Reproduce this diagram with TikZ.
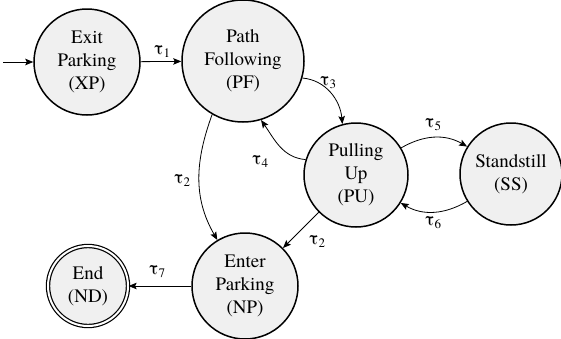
\documentclass[tikz,border=0pt]{standalone}
\usepackage{fontspec}
\setmainfont{texgyretermes-regular.otf}
\newfontfamily\tnr{texgyretermes-regular.otf}
\usetikzlibrary{arrows.meta}
\newcommand{\tsub}[1]{τ\raisebox{-0.35ex}{\fontsize{13}{13}\selectfont #1}}
\begin{document}
\begin{tikzpicture}[x=1pt,y=-1pt,
  state/.style={circle, draw=black, line width=1.5pt, fill=black!6, inner sep=0pt, align=center,
     font=\tnr\fontsize{19}{23}\selectfont},
  tr/.style={-{Stealth[length=8pt,width=6.5pt,inset=1.5pt]}, line width=0.8pt},
  lab/.style={font=\tnr\fontsize{19}{23}\selectfont, inner sep=0pt}]
\useasboundingbox (0,0) rectangle (561,338);
\node[state, minimum size=106pt] (XP) at (87,62) {Exit\\Parking\\(XP)};
\node[state, minimum size=122pt] (PF) at (243,61) {Path\\Following\\(PF)};
\node[state, minimum size=104pt] (PU) at (356,175) {Pulling\\Up\\(PU)};
\node[state, minimum size=102pt] (SS) at (511,174) {Standstill\\(SS)};
\node[state, minimum size=106pt] (NP) at (245,286) {Enter\\Parking\\(NP)};
\node[state, minimum size=80pt, double, double distance=2pt, line width=1.2pt] (ND) at (88,286) {End\\(ND)};
\coordinate (start) at (3,62);

\draw[tr] (start) -- (XP);
\draw[tr] (XP) -- (PF);
\draw[tr] (PF.-16) to[out=-5, in=95] (PU.105);
\draw[tr] (PU.163) to[out=175, in=-55] (PF.-73);
\draw[tr] (PF.-120) to[out=-110, in=120] (NP.121);
\draw[tr] (PU) -- (NP);
\draw[tr] (PU.31) to[out=30, in=150] (SS.148);
\draw[tr] (SS.-148) to[out=-150, in=-30] (PU.-32);
\draw[tr] (NP) -- (ND);

\node[lab] (l1) at (162,52) {\tsub{1}};
\node[lab] (l3) at (328,83) {\tsub{3}};
\node[lab] (l4) at (260,162) {\tsub{4}};
\node[lab] (l2a) at (182,181) {\tsub{2}};
\node[lab] (l5) at (433,125) {\tsub{5}};
\node[lab] (l6) at (433,223) {\tsub{6}};
\node[lab] (l2b) at (317,242) {\tsub{2}};
\node[lab] (l7) at (157,272) {\tsub{7}};
\end{tikzpicture}
\end{document}
